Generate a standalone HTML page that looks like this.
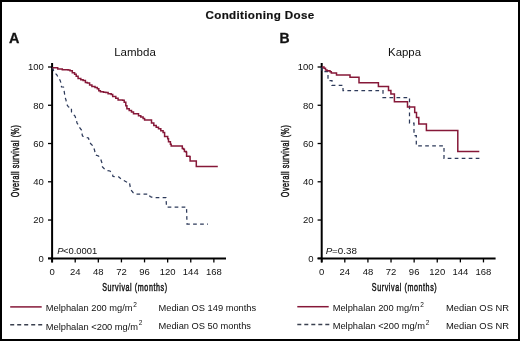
<!DOCTYPE html>
<html><head><meta charset="utf-8"><style>
html,body{margin:0;padding:0;background:#fff;}
body{width:520px;height:341px;overflow:hidden;}
svg{display:block;will-change:transform;}
text{font-family:"Liberation Sans",sans-serif;fill:#111;}
.tk{font-size:9.5px;fill:#111;}
.ax{font-size:10.8px;stroke:#111;stroke-width:0.45px;}
.lg{font-size:9.3px;}
</style></head><body>
<svg width="520" height="341" viewBox="0 0 520 341">
<rect x="1" y="1" width="518" height="339" fill="#fff" stroke="#000" stroke-width="2"/>
<text x="260" y="18.6" text-anchor="middle" style="font-size:11.6px;font-weight:bold;letter-spacing:0.35px;stroke:#111;stroke-width:0.2px">Conditioning Dose</text>
<text x="9" y="43.2" style="font-size:14.4px;font-weight:bold;stroke:#111;stroke-width:0.3px">A</text>
<text x="279.6" y="43" style="font-size:14px;font-weight:bold;stroke:#111;stroke-width:0.3px">B</text>
<text x="135" y="55.9" text-anchor="middle" style="font-size:11.5px">Lambda</text>
<text x="404.5" y="55.6" text-anchor="middle" style="font-size:11.4px">Kappa</text>
<line x1="52.1" y1="63" x2="52.1" y2="262.4" stroke="#000" stroke-width="2"/>
<line x1="48.0" y1="258.4" x2="226.0" y2="258.4" stroke="#000" stroke-width="2"/>
<line x1="48.0" y1="258.30" x2="52.1" y2="258.30" stroke="#000" stroke-width="1.3"/>
<text x="43.9" y="261.55" class="tk" text-anchor="end">0</text>
<line x1="48.0" y1="220.04" x2="52.1" y2="220.04" stroke="#000" stroke-width="1.3"/>
<text x="43.9" y="223.29" class="tk" text-anchor="end">20</text>
<line x1="48.0" y1="181.78" x2="52.1" y2="181.78" stroke="#000" stroke-width="1.3"/>
<text x="43.9" y="185.03" class="tk" text-anchor="end">40</text>
<line x1="48.0" y1="143.52" x2="52.1" y2="143.52" stroke="#000" stroke-width="1.3"/>
<text x="43.9" y="146.77" class="tk" text-anchor="end">60</text>
<line x1="48.0" y1="105.26" x2="52.1" y2="105.26" stroke="#000" stroke-width="1.3"/>
<text x="43.9" y="108.51" class="tk" text-anchor="end">80</text>
<line x1="48.0" y1="67.00" x2="52.1" y2="67.00" stroke="#000" stroke-width="1.3"/>
<text x="43.9" y="70.25" class="tk" text-anchor="end">100</text>
<line x1="52.10" y1="258.4" x2="52.10" y2="262.4" stroke="#000" stroke-width="1.3"/>
<text x="52.10" y="274.9" class="tk" text-anchor="middle">0</text>
<line x1="75.21" y1="258.4" x2="75.21" y2="262.4" stroke="#000" stroke-width="1.3"/>
<text x="75.21" y="274.9" class="tk" text-anchor="middle">24</text>
<line x1="98.32" y1="258.4" x2="98.32" y2="262.4" stroke="#000" stroke-width="1.3"/>
<text x="98.32" y="274.9" class="tk" text-anchor="middle">48</text>
<line x1="121.43" y1="258.4" x2="121.43" y2="262.4" stroke="#000" stroke-width="1.3"/>
<text x="121.43" y="274.9" class="tk" text-anchor="middle">72</text>
<line x1="144.54" y1="258.4" x2="144.54" y2="262.4" stroke="#000" stroke-width="1.3"/>
<text x="144.54" y="274.9" class="tk" text-anchor="middle">96</text>
<line x1="167.65" y1="258.4" x2="167.65" y2="262.4" stroke="#000" stroke-width="1.3"/>
<text x="167.65" y="274.9" class="tk" text-anchor="middle">120</text>
<line x1="190.76" y1="258.4" x2="190.76" y2="262.4" stroke="#000" stroke-width="1.3"/>
<text x="190.76" y="274.9" class="tk" text-anchor="middle">144</text>
<line x1="213.87" y1="258.4" x2="213.87" y2="262.4" stroke="#000" stroke-width="1.3"/>
<text x="213.87" y="274.9" class="tk" text-anchor="middle">168</text>
<text class="ax" transform="translate(102.2,291.1) scale(0.66,1)" style="letter-spacing:0.9px">Survival (months)</text>
<text class="ax" transform="translate(19.4,197.2) rotate(-90) scale(0.66,1)" style="letter-spacing:0.82px">Overall survival (%)</text>
<line x1="321.7" y1="63" x2="321.7" y2="262.4" stroke="#000" stroke-width="2"/>
<line x1="317.6" y1="258.4" x2="495.6" y2="258.4" stroke="#000" stroke-width="2"/>
<line x1="317.6" y1="258.30" x2="321.7" y2="258.30" stroke="#000" stroke-width="1.3"/>
<text x="313.5" y="261.55" class="tk" text-anchor="end">0</text>
<line x1="317.6" y1="220.04" x2="321.7" y2="220.04" stroke="#000" stroke-width="1.3"/>
<text x="313.5" y="223.29" class="tk" text-anchor="end">20</text>
<line x1="317.6" y1="181.78" x2="321.7" y2="181.78" stroke="#000" stroke-width="1.3"/>
<text x="313.5" y="185.03" class="tk" text-anchor="end">40</text>
<line x1="317.6" y1="143.52" x2="321.7" y2="143.52" stroke="#000" stroke-width="1.3"/>
<text x="313.5" y="146.77" class="tk" text-anchor="end">60</text>
<line x1="317.6" y1="105.26" x2="321.7" y2="105.26" stroke="#000" stroke-width="1.3"/>
<text x="313.5" y="108.51" class="tk" text-anchor="end">80</text>
<line x1="317.6" y1="67.00" x2="321.7" y2="67.00" stroke="#000" stroke-width="1.3"/>
<text x="313.5" y="70.25" class="tk" text-anchor="end">100</text>
<line x1="321.70" y1="258.4" x2="321.70" y2="262.4" stroke="#000" stroke-width="1.3"/>
<text x="321.70" y="274.9" class="tk" text-anchor="middle">0</text>
<line x1="344.81" y1="258.4" x2="344.81" y2="262.4" stroke="#000" stroke-width="1.3"/>
<text x="344.81" y="274.9" class="tk" text-anchor="middle">24</text>
<line x1="367.92" y1="258.4" x2="367.92" y2="262.4" stroke="#000" stroke-width="1.3"/>
<text x="367.92" y="274.9" class="tk" text-anchor="middle">48</text>
<line x1="391.03" y1="258.4" x2="391.03" y2="262.4" stroke="#000" stroke-width="1.3"/>
<text x="391.03" y="274.9" class="tk" text-anchor="middle">72</text>
<line x1="414.14" y1="258.4" x2="414.14" y2="262.4" stroke="#000" stroke-width="1.3"/>
<text x="414.14" y="274.9" class="tk" text-anchor="middle">96</text>
<line x1="437.25" y1="258.4" x2="437.25" y2="262.4" stroke="#000" stroke-width="1.3"/>
<text x="437.25" y="274.9" class="tk" text-anchor="middle">120</text>
<line x1="460.36" y1="258.4" x2="460.36" y2="262.4" stroke="#000" stroke-width="1.3"/>
<text x="460.36" y="274.9" class="tk" text-anchor="middle">144</text>
<line x1="483.47" y1="258.4" x2="483.47" y2="262.4" stroke="#000" stroke-width="1.3"/>
<text x="483.47" y="274.9" class="tk" text-anchor="middle">168</text>
<text class="ax" transform="translate(371.8,291.1) scale(0.66,1)" style="letter-spacing:0.9px">Survival (months)</text>
<text class="ax" transform="translate(289.0,197.2) rotate(-90) scale(0.66,1)" style="letter-spacing:0.82px">Overall survival (%)</text>
<polyline points="52.5,67.5 54.0,72.0 57.0,75.0 58.0,77.5 60.0,80.0 61.0,83.0 61.5,86.9 63.5,87.0 64.3,92.0 65.0,97.0 66.0,100.0 66.5,104.0 68.5,107.0 71.4,107.5 71.5,112.0 73.0,114.0 75.0,116.0 76.4,120.0 77.0,123.0 78.5,125.0 79.5,127.5 81.5,130.0 82.0,134.0 82.5,136.0 86.0,137.5 88.5,138.0 89.5,142.0 91.0,144.0 93.0,146.0 94.5,150.0 95.5,155.0 98.5,156.0 100.5,158.5 102.0,163.0 102.5,167.0 104.0,168.5 107.0,170.5 110.0,171.0 112.5,174.0 113.0,176.5 119.0,177.0 120.5,178.5 123.0,180.0 126.5,182.0 129.5,182.5 130.0,186.0 131.0,190.0 133.0,192.5 135.0,194.0 149.0,194.0 150.0,196.5 152.5,197.5 166.0,197.5 166.5,207.0 186.5,207.0 187.0,224.0 208.0,224.0" fill="none" stroke="#2d3a5a" stroke-width="1.25" stroke-dasharray="3.7 3.3"/>
<path d="M322,67 V71.6 H328 V80.5 H332 V85.3 H343 V90.6 H383 V97.5 H409.5 V123 H414 V135.5 H416.3 V145.8 H444 V158.3 H482" fill="none" stroke="#2d3a5a" stroke-width="1.25" stroke-dasharray="3.7 3.3"/>
<polyline points="52.3,67.8 57.7,67.8 57.7,68.9 62.3,68.9 62.3,69.7 68.1,69.7 68.1,70.1 70.0,70.1 70.0,70.8 72.3,70.8 72.3,72.8 74.6,72.8 74.6,74.3 76.2,74.3 76.2,76.2 78.1,76.2 78.1,78.5 80.8,78.5 80.8,79.7 83.1,79.7 83.1,80.5 85.4,80.5 85.4,82.4 87.3,82.4 87.3,83.0 89.6,83.0 89.6,84.9 91.9,84.9 91.9,86.5 95.0,86.5 95.0,87.6 97.3,87.6 97.3,88.8 98.8,88.8 98.8,90.7 100.4,90.7 100.4,91.8 103.5,91.8 103.5,92.2 105.8,92.2 105.8,92.6 108.1,92.6 108.1,93.8 111.2,93.8 111.2,94.5 112.7,94.5 112.7,96.5 115.8,96.5 115.8,98.2 118.1,98.2 118.1,99.9 122.7,99.9 122.7,100.2 124.2,100.2 124.2,102.3 125.8,102.3 125.8,105.8 126.9,105.8 126.9,108.8 129.2,108.8 129.2,110.4 131.5,110.4 131.5,111.9 133.5,111.9 133.5,113.8 136.2,113.8 136.2,113.8 138.5,113.8 138.5,115.8 140.8,115.8 140.8,116.9 143.1,116.9 143.1,118.5 144.6,118.5 144.6,120.0 151.2,120.0 151.2,120.0 151.5,120.0 151.5,123.1 153.8,123.1 153.8,125.4 156.2,125.4 156.2,127.3 158.5,127.3 158.5,128.8 160.8,128.8 160.8,130.8 163.1,130.8 163.1,132.6 164.6,132.6 164.6,136.5 167.7,136.5 167.7,138.8 168.5,138.8 168.5,141.8 170.4,141.8 170.4,144.2 171.2,144.2 171.2,146.1 181.5,146.1 181.5,146.1 182.3,146.1 182.3,148.4 183.5,148.4 183.5,149.2 184.4,149.2 184.4,151.4 186.2,151.4 186.2,152.3 186.6,152.3 186.6,156.3 189.7,156.3 189.7,156.7 190.1,156.7 190.1,161.1 195.8,161.1 195.8,161.1 196.3,161.1 196.3,166.4 217.8,166.4 217.8,166.4" fill="none" stroke="#861838" stroke-width="1.5" stroke-linejoin="miter"/>
<path d="M322,67 H324 V68.3 H325.5 V69.9 H327 V70.8 H330 V71.8 H331.3 V73 H336.5 V75 H350 V77.2 H359 V82.8 H378.4 V86.4 H388.5 V90.5 H390.9 V94 H394.4 V101.8 H407.5 V106.9 H414.7 V112.6 H416.5 V117.5 H418.8 V124 H426.4 V130.4 H457.8 V151.4 H479.3" fill="none" stroke="#861838" stroke-width="1.5"/>
<text x="57.2" y="253.9" class="lg" style="font-size:9.4px"><tspan font-style="italic">P</tspan><tspan dx="-0.5">&lt;0.0001</tspan></text>
<text x="325.8" y="253.6" class="lg" style="font-size:9.8px"><tspan font-style="italic">P</tspan><tspan dx="-0.3">=0.38</tspan></text>
<!-- legends -->
<line x1="10.2" y1="306.9" x2="41.7" y2="306.9" stroke="#861838" stroke-width="1.5"/>
<line x1="10.2" y1="324.8" x2="42.2" y2="324.8" stroke="#3a404f" stroke-width="1.5" stroke-dasharray="4 3"/>
<text x="45.8" y="311.3" class="lg">Melphalan 200 mg/m<tspan dx="0.7" dy="-4.2" style="font-size:6.5px">2</tspan></text>
<text x="45.8" y="329.5" class="lg">Melphalan &lt;200 mg/m<tspan dx="0.7" dy="-4.2" style="font-size:6.5px">2</tspan></text>
<text x="158.5" y="310.9" class="lg">Median OS 149 months</text>
<text x="158.5" y="329.4" class="lg">Median OS 50 months</text>
<line x1="297.3" y1="306.7" x2="328.7" y2="306.7" stroke="#861838" stroke-width="1.5"/>
<line x1="297.3" y1="324.5" x2="329.3" y2="324.5" stroke="#3a404f" stroke-width="1.5" stroke-dasharray="4 3"/>
<text x="332.7" y="311.2" class="lg">Melphalan 200 mg/m<tspan dx="0.7" dy="-4.2" style="font-size:6.5px">2</tspan></text>
<text x="332.7" y="329.4" class="lg">Melphalan &lt;200 mg/m<tspan dx="0.7" dy="-4.2" style="font-size:6.5px">2</tspan></text>
<text x="446" y="311.1" class="lg" style="font-size:9.4px">Median OS NR</text>
<text x="446" y="329.3" class="lg" style="font-size:9.4px">Median OS NR</text>
</svg>
</body></html>
